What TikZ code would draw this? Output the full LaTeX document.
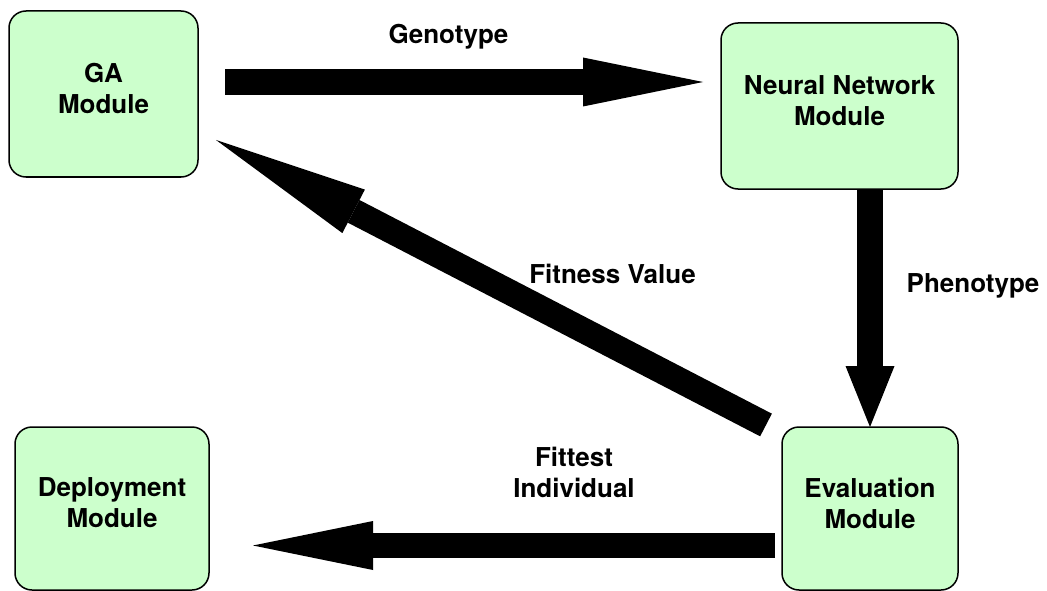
\documentclass[tikz,border=0pt]{standalone}
\usepackage{fontspec}
\setmainfont{TeX Gyre Heros}
\usetikzlibrary{arrows.meta,calc}
\definecolor{modfill}{HTML}{CCFFCC}
\begin{document}
\begin{tikzpicture}[x=1pt,y=-1pt,
  font=\fontsize{26}{31}\selectfont\bfseries,
  module/.style={draw=black, line width=1.5pt, fill=modfill, rounded corners=17pt,
    inner sep=0pt, outer sep=0pt, align=center,
    execute at end node={\rule[-11pt]{0pt}{11pt}}},
  flow/.style={line width=25.5pt, draw=black,
    -{Triangle[length=#1, width=49pt, line width=0pt]}},
  flow/.default=120pt,
  lbl/.style={anchor=base, inner sep=0pt}
]
\useasboundingbox (0,0) rectangle (1047,591);

% modules
\node[module, minimum width=189pt, minimum height=166pt] (ga) at (103.5,94) {GA\\Module};
\node[module, minimum width=237pt, minimum height=166pt] (nn) at (839.5,106) {Neural Network\\Module};
\node[module, minimum width=176pt, minimum height=163pt] (ev) at (870,508.5) {Evaluation\\Module};
\node[module, minimum width=194pt, minimum height=163pt] (dp) at (112,508.5) {Deployment\\Module};

% block arrows between modules
\draw[flow] ([shift={(27,-12)}]ga.east) -- ([shift={(-18,-24)}]nn.west);
\draw[flow=61pt] (nn.south -| ev.north) -- (ev.north);
\draw[flow=155pt] ([shift={(-16,-2)}]ev.north west) -- ([shift={(18,-37)}]ga.south east);
\draw[flow] ([shift={(-7,37)}]ev.west) -- ([shift={(44,37)}]dp.east);

% arrow labels
\node[lbl] (geno) at (448.5,44) {Genotype};
\node[lbl] (pheno) at (973,292) {Phenotype};
\node[lbl] (fitv) at (612.5,283) {Fitness Value};
\node[align=center, inner sep=0pt] (fitt) at (574,472) {Fittest\\Individual};
\end{tikzpicture}
\end{document}
